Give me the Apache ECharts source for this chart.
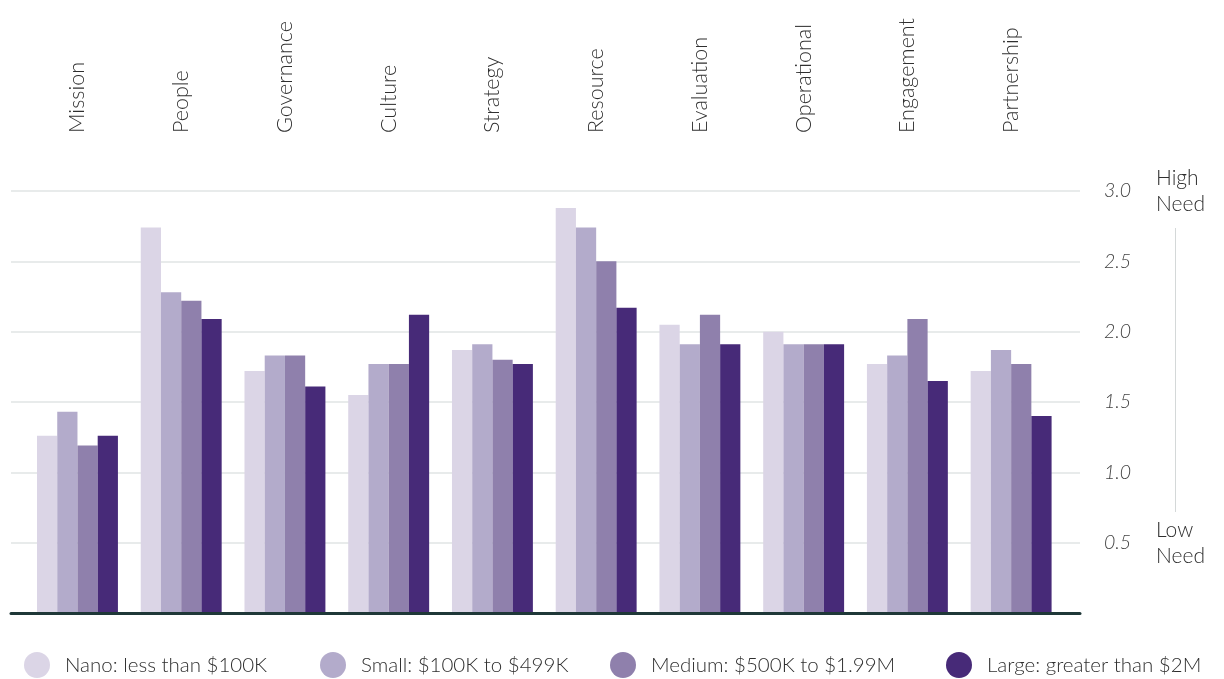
<!DOCTYPE html>
<html>
<head>
<meta charset="utf-8">
<script src="https://cdn.jsdelivr.net/npm/echarts@6/dist/echarts.min.js"></script>
<style>
  html, body { margin: 0; padding: 0; background: #ffffff; }
  #chart { width: 1224px; height: 679px; }
</style>
</head>
<body>
<div id="chart"></div>
<script>
// Capacity areas, one group of bars per area
const categories = ['Mission', 'People', 'Governance', 'Culture', 'Strategy',
  'Resource', 'Evaluation', 'Operational', 'Engagement', 'Partnership'];

// Average need score by organisation size (1 = low need, 3 = high need)
const nano   = [1.26, 2.74, 1.72, 1.55, 1.87, 2.88, 2.05, 2.00, 1.77, 1.72];
const small  = [1.43, 2.28, 1.83, 1.77, 1.91, 2.74, 1.91, 1.91, 1.83, 1.87];
const medium = [1.19, 2.22, 1.83, 1.77, 1.80, 2.50, 2.12, 1.91, 2.09, 1.77];
const large  = [1.26, 2.09, 1.61, 2.12, 1.77, 2.17, 1.91, 1.91, 1.65, 1.40];

const seriesNames = [
  'Nano: less than $100K',
  'Small: $100K to $499K',
  'Medium: $500K to $1.99M',
  'Large: greater than $2M'
];
const seriesColors = ['#dbd5e6', '#b3abcb', '#8f80ac', '#472a78'];

// Value axis ticks
const yMin = 0, yMax = 3, yStep = 0.5;

const FONT = 'Lato';
const WEIGHT = 300;
const TEXT = '#2f2f2f';

const chart = echarts.init(document.getElementById('chart'), null, { renderer: 'canvas' });

const seriesData = [nano, small, medium, large];

const legendLefts = [24, 320, 610, 946];

const option = {
  backgroundColor: '#ffffff',
  animation: false,
  textStyle: { fontFamily: FONT },
  grid: [
    // full-width grid carrying the gridlines, baseline and right-hand scale
    { left: 11, right: 144, top: 191, bottom: 66 },
    // grid holding the grouped bars and the category labels
    { left: 25.6, right: 161, top: 191, bottom: 66 }
  ],
  xAxis: [
    {
      gridIndex: 0, type: 'category', data: [''],
      axisLine: { show: true, lineStyle: { color: '#1f3838', width: 3 } },
      axisTick: { show: false }, axisLabel: { show: false },
      z: 10
    },
    {
      gridIndex: 1, type: 'category', data: categories, position: 'top',
      axisLine: { show: false }, axisTick: { show: false },
      axisLabel: {
        rotate: 90, margin: 58, interval: 0,
        fontFamily: FONT, fontWeight: WEIGHT, fontSize: 21.5, color: TEXT
      }
    }
  ],
  yAxis: [
    {
      gridIndex: 0, type: 'value', position: 'right',
      min: yMin, max: yMax, interval: yStep,
      axisLine: { show: false }, axisTick: { show: false },
      splitLine: { show: true, lineStyle: { color: '#e1e5e5', width: 1.5 } },
      axisLabel: {
        margin: 24, fontFamily: FONT, fontWeight: WEIGHT, fontSize: 19.5,
        fontStyle: 'italic', color: '#444444',
        formatter: v => (v === 0 ? '' : v.toFixed(1))
      }
    },
    {
      gridIndex: 1, type: 'value', min: yMin, max: yMax, interval: yStep, show: false,
      splitLine: { show: false }
    }
  ],
  legend: seriesNames.map((name, i) => ({
    data: [name],
    left: legendLefts[i], top: 652,
    icon: 'circle', itemWidth: 26, itemHeight: 26,
    padding: 0, selectedMode: false,
    textStyle: {
      fontFamily: FONT, fontWeight: WEIGHT, fontSize: 20.5, color: TEXT,
      padding: [0, 0, 0, 10]
    }
  })),
  series: seriesNames.map((name, i) => ({
    name: name,
    type: 'bar',
    xAxisIndex: 1, yAxisIndex: 1,
    data: seriesData[i],
    barGap: '0%',
    barCategoryGap: '22%',
    itemStyle: { color: seriesColors[i] },
    z: 2
  })),
  graphic: [
    {
      type: 'text', left: 1156, top: 165,
      style: {
        text: 'High\nNeed', font: WEIGHT + ' 21px ' + FONT, fill: TEXT, lineHeight: 26
      }
    },
    {
      type: 'line', shape: { x1: 1175.5, y1: 228, x2: 1175.5, y2: 512 },
      style: { stroke: '#d4d8d8', lineWidth: 1 }
    },
    {
      type: 'text', left: 1156, top: 517,
      style: {
        text: 'Low\nNeed', font: WEIGHT + ' 21px ' + FONT, fill: TEXT, lineHeight: 26
      }
    }
  ]
};

chart.setOption(option);
</script>
</body>
</html>
